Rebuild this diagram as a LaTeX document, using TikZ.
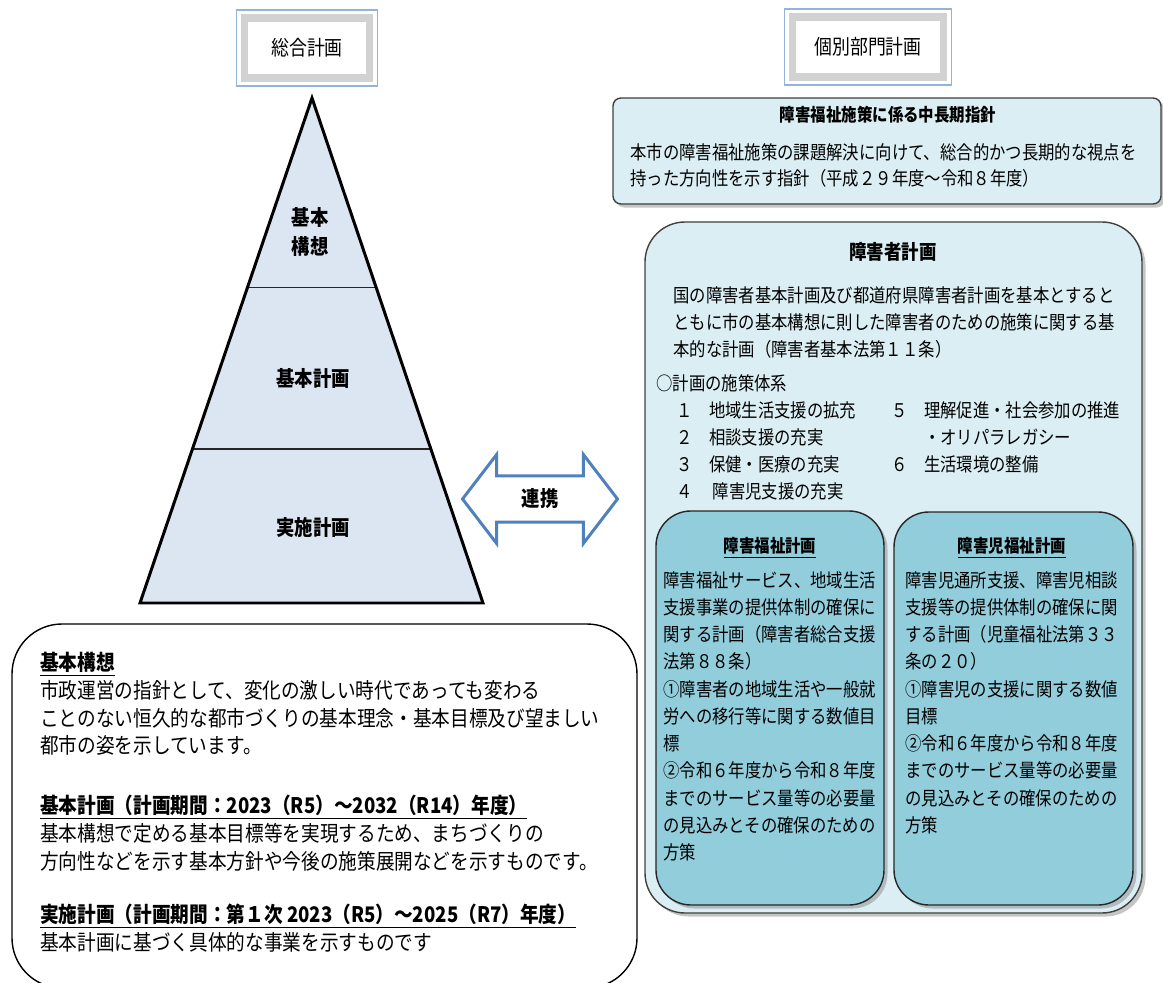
\documentclass[tikz,border=0pt]{standalone}
\usepackage{fontspec}
\setmainfont{Noto Sans CJK JP}[FakeStretch=0.87]
\usetikzlibrary{shapes,arrows,positioning,calc,shadows}

\definecolor{pyrfill}{HTML}{DCE6F2}
\definecolor{panelfill}{HTML}{DAEEF3}
\definecolor{planfill}{HTML}{92CDDC}
\definecolor{arrowblue}{HTML}{4F81BD}
\definecolor{btnedge}{HTML}{95B3D7}

\begin{document}
\begin{tikzpicture}[x=0.02cm, y=-0.02cm, >=latex',
    lbl/.style={font=\fontsize{12}{17}\selectfont\bfseries, align=center},
    button/.style={draw=gray!35, line width=4pt, fill=white, font=\fontsize{11.7}{14}\selectfont, minimum height=1.2cm},
    panel/.style={draw=black!75, line width=0.8pt, fill=panelfill, drop shadow={shadow xshift=2pt, shadow yshift=-2pt, fill=black!45}},
    plan/.style={draw=black!85, line width=0.8pt, fill=planfill, rounded corners=0.7cm, drop shadow={shadow xshift=2pt, shadow yshift=-2pt, fill=black!45}},
    head/.style={font=\fontsize{10.1}{14}\selectfont\bfseries},
    body/.style={font=\fontsize{10.7}{15.5}\selectfont, align=left, inner sep=0pt, anchor=north west},
    note/.style={font=\fontsize{12.2}{15.8}\selectfont, align=left, inner sep=0pt, anchor=north west}]

        \useasboundingbox (0,0) rectangle (1163,983);

        % Botões
        \node [button, minimum width=2.5cm] (sogo) at (307,48) {総合計画};
        \draw [btnedge, line width=0.8pt] ([shift={(-2.6pt,2.6pt)}]sogo.north west) rectangle ([shift={(2.6pt,-2.6pt)}]sogo.south east);
        \node [button, minimum width=3.02cm] (kobetsu) at (868,47) {個別部門計画};
        \draw [btnedge, line width=0.8pt] ([shift={(-2.6pt,2.6pt)}]kobetsu.north west) rectangle ([shift={(2.6pt,-2.6pt)}]kobetsu.south east);

        % Pirâmide
        \coordinate (apex) at (312,98);
        \coordinate (bl) at (140,603);
        \coordinate (br) at (483,603);
        \fill [pyrfill] (apex) -- (br) -- (bl) -- cycle;
        \draw [black!85, line width=0.7pt] ($(apex)!0.376!(bl)$) -- ($(apex)!0.376!(br)$);
        \draw [black!85, line width=0.7pt] ($(apex)!0.695!(bl)$) -- ($(apex)!0.695!(br)$);
        \draw [line width=1.7pt] (apex) -- (br) -- (bl) -- cycle;
        \node [lbl] (koso) at (310,232) {基本\\構想};
        \node [lbl] (kihon) at (313,378) {基本計画};
        \node [lbl] (jisshi) at (313,528) {実施計画};

        % Seta
        \node [double arrow, draw=arrowblue, line width=1.7pt, fill=white, lbl, minimum height=3.1cm,
               double arrow head extend=0.43cm, double arrow tip angle=105, inner ysep=0.23cm] (renkei) at (540,499) {連携};

        % Caixas da direita
        \draw [panel, rounded corners=0.16cm] (613,98) rectangle (1161,204);
        \node [head] (shishin) at (888,115) {障害福祉施策に係る中長期指針};
        \node [body, font=\fontsize{10.7}{14.8}\selectfont] (shishintext) at (630,143) {本市の障害福祉施策の課題解決に向けて、総合的かつ長期的な視点を\\持った方向性を示す指針（平成２９年度～令和８年度）};

        \draw [panel, rounded corners=0.8cm] (645,222) rectangle (1142,913);
        \node [font=\fontsize{11.4}{14}\selectfont\bfseries] (shogaisha) at (893,252) {障害者計画};
        \node [body] (gaiyo) at (673,286) {国の障害者基本計画及び都道府県障害者計画を基本とすると\\ともに市の基本構想に則した障害者のための施策に関する基\\本的な計画（障害者基本法第１１条）};
        \node [body] (taikei) at (656,374) {○計画の施策体系};
        \node [body] (sesaku1) at (676,401) {１　地域生活支援の拡充\\２　相談支援の充実\\３　保健・医療の充実\\４　 障害児支援の充実};
        \node [body] (sesaku2) at (891,401) {５　理解促進・社会参加の推進\\　　・オリパラレガシー\\６　生活環境の整備};

        \draw [plan] (656,511) rectangle (884,905);
        \draw [plan] (894,512) rectangle (1133,905);
        \node [head] (fukushi) at (770,548) {\underline{障害福祉計画}};
        \node [body] (fukushitext) at (663,571) {障害福祉サービス、地域生活\\支援事業の提供体制の確保に\\関する計画（障害者総合支援\\法第８８条）\\①障害者の地域生活や一般就\\労への移行等に関する数値目\\標\\②令和６年度から令和８年度\\までのサービス量等の必要量\\の見込みとその確保のための\\方策};
        \node [head] (jido) at (1012,548) {\underline{障害児福祉計画}};
        \node [body] (jidotext) at (905,571) {障害児通所支援、障害児相談\\支援等の提供体制の確保に関\\する計画（児童福祉法第３３\\条の２０）\\①障害児の支援に関する数値\\目標\\②令和６年度から令和８年度\\までのサービス量等の必要量\\の見込みとその確保のための\\方策};

        % Caixa de baixo
        \draw [rounded corners=1cm, line width=0.8pt, fill=white] (12,624) rectangle (637,988);
        \node [note] (kosonote) at (40,652) {\underline{\textbf{基本構想}}\\市政運営の指針として、変化の激しい時代であっても変わる\\ことのない恒久的な都市づくりの基本理念・基本目標及び望ましい\\都市の姿を示しています。};
        \node [note] (kihonnote) at (40,795) {\underline{\textbf{基本計画（計画期間：2023（R5）～2032（R14）年度）}}\\基本構想で定める基本目標等を実現するため、まちづくりの\\方向性などを示す基本方針や今後の施策展開などを示すものです。};
        \node [note] (jisshinote) at (40,904) {\underline{\textbf{実施計画（計画期間：第１次 2023（R5）～2025（R7）年度）}}\\基本計画に基づく具体的な事業を示すものです};

    \end{tikzpicture}
\end{document}
